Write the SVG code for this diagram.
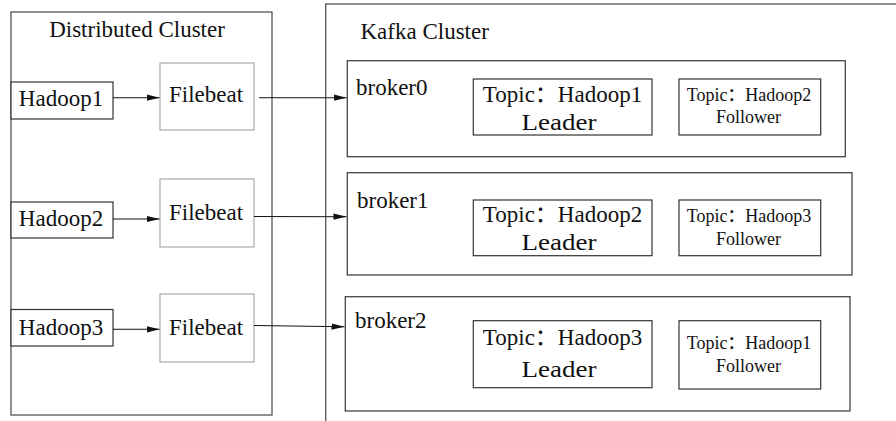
<svg xmlns="http://www.w3.org/2000/svg" width="896" height="421" viewBox="0 0 896 421">
<style>
text{font-family:"Liberation Serif","Noto Sans CJK SC",serif;fill:#111}
.f23{font-size:23px}
.f18{font-size:18px}
.m{text-anchor:middle}
.cl{fill:#fff;stroke:#555;stroke-width:1.3}
.bx{fill:#fff;stroke:#333;stroke-width:1.2}
.fb{fill:#fff;stroke:#aaa;stroke-width:1.2}
.br{fill:#fff;stroke:#444;stroke-width:1.3}
.tp{fill:#fff;stroke:#333;stroke-width:1.2}
.ln{stroke:#111;stroke-width:1.1;fill:none;marker-end:url(#arr)}
.ld{font-size:24px}
</style>
<defs>
<marker id="arr" markerWidth="13" markerHeight="8" refX="13" refY="4" orient="auto" markerUnits="userSpaceOnUse">
<path d="M0,0.8 L13,4 L0,7.2 z" fill="#111"/>
</marker>
</defs>
<rect width="896" height="421" fill="#fff"/>

<g id="distributed-cluster">
<rect class="cl" x="11" y="12" width="261" height="403"/>
<text class="f23 m" x="137" y="37">Distributed Cluster</text>
</g>

<g id="kafka-cluster">
<rect class="cl" x="325.7" y="4" width="600" height="440"/>
<text class="f23" x="360.5" y="39">Kafka Cluster</text>
</g>

<g id="hadoop1">
<rect class="bx" x="11" y="82" width="102" height="37"/>
<text class="f23 m" x="61" y="106">Hadoop1</text>
</g>
<g id="hadoop2">
<rect class="bx" x="11" y="202" width="102" height="36"/>
<text class="f23 m" x="61" y="226">Hadoop2</text>
</g>
<g id="hadoop3">
<rect class="bx" x="11" y="309.5" width="102" height="36.5"/>
<text class="f23 m" x="61" y="335">Hadoop3</text>
</g>

<g id="filebeat1">
<rect class="fb" x="160" y="63" width="94" height="67"/>
<text class="f23 m" x="206" y="102">Filebeat</text>
</g>
<g id="filebeat2">
<rect class="fb" x="160" y="179" width="94" height="68"/>
<text class="f23 m" x="206" y="220">Filebeat</text>
</g>
<g id="filebeat3">
<rect class="fb" x="160" y="294" width="94" height="68"/>
<text class="f23 m" x="206" y="335">Filebeat</text>
</g>

<g id="broker0">
<rect class="br" x="347.3" y="60.7" width="498" height="96"/>
<text class="f23" x="356" y="95">broker0</text>
</g>
<g id="broker1">
<rect class="br" x="347.3" y="172.7" width="504.7" height="102.3"/>
<text class="f23" x="357" y="208">broker1</text>
</g>
<g id="broker2">
<rect class="br" x="345.3" y="296.7" width="504.7" height="114.3"/>
<text class="f23" x="355" y="328">broker2</text>
</g>

<g id="b0-leader">
<rect class="tp" x="473.3" y="79" width="178.7" height="56"/>
<text class="f23 m" x="562.5" y="101.5">Topic：Hadoop1</text>
<text class="ld m" x="559" y="130" textLength="75" lengthAdjust="spacingAndGlyphs">Leader</text>
</g>
<g id="b0-follower">
<rect class="tp" x="679" y="79" width="141.7" height="56"/>
<text class="f18 m" x="749" y="101">Topic：Hadoop2</text>
<text class="f18 m" x="748.5" y="123">Follower</text>
</g>
<g id="b1-leader">
<rect class="tp" x="473.3" y="200" width="178.7" height="55.7"/>
<text class="f23 m" x="562.5" y="221.5">Topic：Hadoop2</text>
<text class="ld m" x="559" y="250" textLength="75" lengthAdjust="spacingAndGlyphs">Leader</text>
</g>
<g id="b1-follower">
<rect class="tp" x="679" y="200" width="141.7" height="55.7"/>
<text class="f18 m" x="749" y="221.5">Topic：Hadoop3</text>
<text class="f18 m" x="748.5" y="245">Follower</text>
</g>
<g id="b2-leader">
<rect class="tp" x="473.3" y="320.7" width="178.7" height="67"/>
<text class="f23 m" x="562.5" y="345">Topic：Hadoop3</text>
<text class="ld m" x="559" y="376.5" textLength="75" lengthAdjust="spacingAndGlyphs">Leader</text>
</g>
<g id="b2-follower">
<rect class="tp" x="679" y="320.7" width="141.7" height="68.3"/>
<text class="f18 m" x="749" y="349">Topic：Hadoop1</text>
<text class="f18 m" x="748.5" y="372">Follower</text>
</g>

<g id="connectors">
<line class="ln" x1="113" y1="97.7" x2="159.5" y2="97.7"/>
<line class="ln" x1="113" y1="219" x2="159.5" y2="219"/>
<line class="ln" x1="113" y1="329.3" x2="159.5" y2="329.3"/>
<line class="ln" x1="259" y1="97.7" x2="346.5" y2="97.7"/>
<line class="ln" x1="254" y1="216.5" x2="346.5" y2="216.7"/>
<line class="ln" x1="254" y1="325.5" x2="344.5" y2="326.8"/>
</g>
</svg>
